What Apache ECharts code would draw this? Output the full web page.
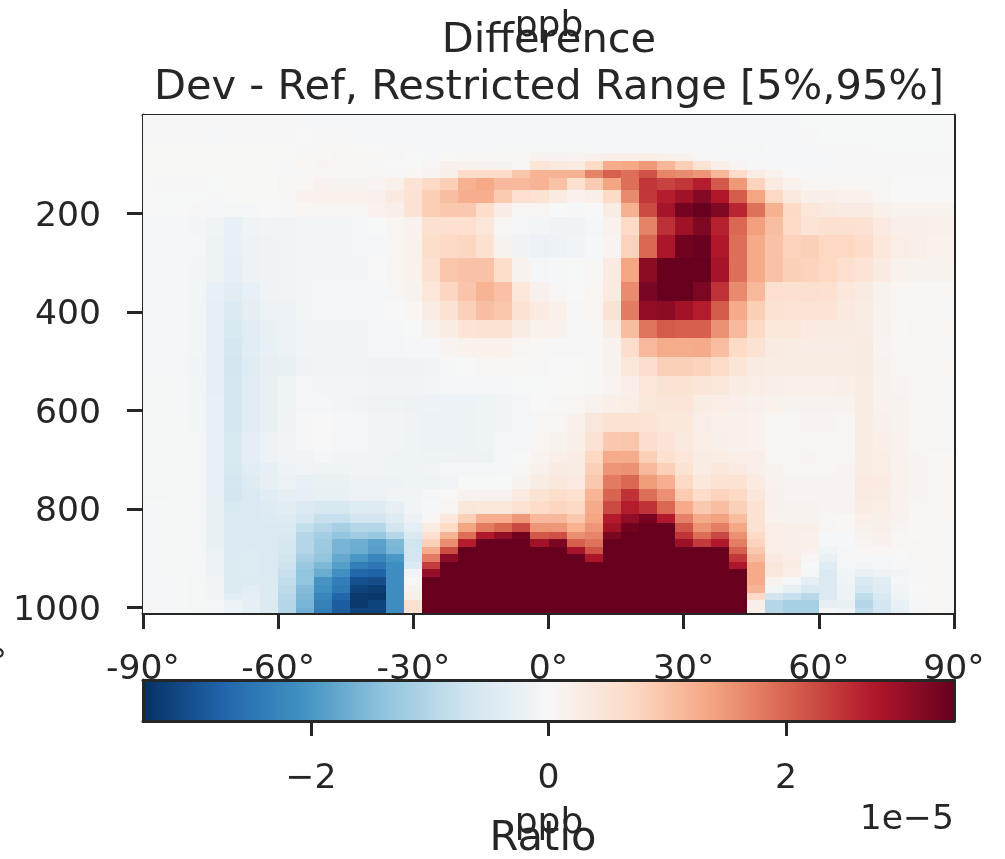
<!DOCTYPE html>
<html><head><meta charset="utf-8">
<style>html,body{margin:0;padding:0;background:#fff}#c{width:1005px;height:859px}</style>
<script src="https://cdn.jsdelivr.net/npm/echarts@6/dist/echarts.min.js"></script>
</head><body><div id="c"></div>
<script>
// Cell edges
const latEdges = [-90,-88,-84,-80,-76,-72,-68,-64,-60,-56,-52,-48,-44,-40,-36,-32,-28,-24,-20,-16,-12,-8,-4,0,4,8,12,16,20,24,28,32,36,40,44,48,52,56,60,64,68,72,76,80,84,88,90];
const pressureEdges = [0,24,57,77,93,111,128,152,179,207,244,290,339,378,416,453,491,530,569,605,644,682,707,731,759,784,810,828,847,861,877,891,908,922,938,954,971,985,1001,1011];
// Colour scale and ticks
const colorLimit = 3.415;
const rdbuColors = ['#053061','#2166ac','#4393c3','#92c5de','#d1e5f0','#f7f7f7','#fddbc7','#f4a582','#d6604d','#b2182b','#67001f'];
const latTicks = [-90,-60,-30,0,30,60,90];
const pressureTicks = [200,400,600,800,1000];
const colorbarTicks = [-2,0,2];
// Difference, in units of 1e-7 ppb, top row first, one value per latitude cell
const S = 342;
const diffRows = [
[2,2,2,2,2,2,2,2,2,-3,-3,-3,-3,-3,-3,-3,-3,-3,-3,-3,-3,-3,-3,-3,-3,-3,-3,-3,-3,-3,-3,-3,-3,-3,-3,-3,-3,-1,-1,-1,-1,-1,-1,-1,-1,-1],
[2,2,2,2,-3,2,2,2,2,0,-2,-2,-3,-3,-3,-3,-3,-3,-3,-3,-3,-4,-4,-4,-4,-4,-4,-4,-4,-4,-4,-4,-4,-4,-4,-3,-3,-2,-1,-1,-1,-1,-1,-1,-1,-1],
[1,1,1,1,1,1,1,1,1,2,3,3,1,0,-2,-3,-4,-4,-4,-4,-5,-5,-5,-5,-5,-4,-4,-4,-4,-4,-4,-4,-4,-5,-5,-4,-3,-3,-2,-2,-2,-1,-1,-1,-1,-1],
[1,1,1,1,1,1,1,1,1,5,6,5,5,4,2,-1,-3,1,3,3,3,5,12,12,10,16,22,22,25,18,12,5,-3,-4,-4,-4,-3,-3,-3,-2,-2,-2,-2,-2,-2,-2],
[1,1,1,1,1,1,1,1,2,6,10,8,7,2,0,1,7,17,15,14,12,7,45,35,30,68,127,132,148,115,85,50,22,10,-2,-3,-3,-3,-3,-2,-2,-2,-2,-2,-2,-2],
[1,1,1,1,1,1,1,1,2,5,8,7,7,4,2,6,10,20,65,65,65,95,118,118,122,170,205,190,218,168,162,152,115,65,27,15,0,-2,-2,-2,-2,-2,-2,-2,-2,-2],
[-1,-2,-2,-2,-1,1,1,1,4,7,14,13,13,10,18,48,70,85,122,132,112,112,118,100,55,88,137,190,245,232,245,268,212,148,78,32,15,8,4,4,4,5,1,0,0,0],
[0,-1,-1,-1,-2,0,1,1,3,14,15,15,15,16,35,52,85,105,125,125,90,58,52,30,14,22,68,163,243,268,290,315,275,208,137,72,35,20,20,15,15,7,0,0,0,0],
[0,-1,-1,-2,-3,-5,-3,0,2,6,8,8,8,14,22,52,85,92,92,62,26,8,8,0,-4,0,28,122,225,285,330,342,320,262,188,122,70,42,35,30,30,18,12,12,13,13],
[-6,-6,-7,-9,-17,-28,-17,-13,-10,-9,-9,-9,-8,-1,7,14,55,58,58,42,8,-8,-9,-15,-15,-6,15,68,170,250,290,320,265,198,143,105,68,48,55,55,52,32,22,22,18,18],
[-6,-6,-7,-8,-18,-28,-18,-15,-13,-9,-9,-9,-8,-3,8,15,62,70,75,55,13,-14,-22,-20,-13,-4,10,80,197,280,332,338,275,190,130,100,80,82,72,72,65,40,25,20,15,15],
[-6,-6,-8,-9,-18,-30,-18,-15,-12,-9,-9,-9,-9,0,7,15,55,95,100,100,62,12,-6,-3,-1,3,32,137,307,S,S,S,285,190,130,100,82,78,72,58,48,32,15,13,12,12],
[-6,-6,-8,-9,-28,-40,-28,-15,-12,-9,-8,-8,-8,-3,5,13,42,75,98,118,102,42,16,5,0,7,32,162,325,S,S,322,248,163,112,58,55,57,55,40,30,13,8,7,7,7],
[-6,-6,-8,-9,-30,-50,-35,-22,-19,-9,-8,-8,-7,-3,0,6,27,52,82,105,95,52,32,18,2,8,50,178,302,307,288,270,210,130,85,52,47,47,47,35,28,12,8,5,5,5],
[-6,-6,-8,-9,-30,-55,-38,-27,-20,-12,-11,-11,-11,-8,-4,-1,12,28,48,50,50,28,15,15,2,3,28,108,185,210,205,205,155,112,70,40,40,32,30,30,27,13,6,7,7,7],
[-6,-6,-7,-9,-30,-62,-40,-28,-22,-12,-11,-11,-10,-7,-6,-4,-3,10,15,15,15,7,3,2,2,2,13,63,112,128,128,130,105,68,52,30,28,26,27,27,30,9,4,4,4,4],
[-6,-6,-7,-10,-32,-65,-42,-30,-25,-14,-11,-11,-11,-14,-14,-14,-11,-4,-1,5,6,6,2,-1,1,3,13,38,60,82,82,78,65,45,30,28,28,28,28,28,30,12,8,7,7,6],
[-5,-5,-7,-9,-30,-62,-38,-27,-17,-8,-9,-9,-9,-11,-13,-11,-9,-7,-7,-6,-3,-1,-1,1,1,3,10,22,42,50,50,44,38,28,24,22,18,18,18,20,28,12,10,8,5,5],
[-5,-5,-6,-9,-28,-60,-38,-25,-17,-6,-6,-9,-10,-14,-17,-18,-20,-20,-20,-17,-10,-7,0,3,8,11,22,24,38,44,44,28,24,22,16,15,13,12,12,13,28,14,12,8,5,5],
[-5,-5,-5,-9,-28,-60,-37,-25,-15,-4,0,-4,-7,-10,-11,-14,-22,-20,-18,-17,-10,-7,4,8,17,38,50,52,47,40,37,23,18,17,14,7,7,9,9,8,28,16,12,8,5,5],
[-5,-5,-5,-7,-28,-55,-33,-22,-12,-4,0,-6,-8,-11,-11,-17,-21,-21,-18,-17,-8,-6,8,12,20,52,92,95,60,46,35,25,20,17,14,7,8,8,8,8,28,22,14,8,5,5],
[-5,-5,-5,-7,-28,-55,-33,-22,-13,-10,-8,-13,-13,-13,-17,-17,-18,-18,-18,-18,-8,-1,10,22,26,72,130,128,85,55,42,27,28,24,23,8,8,9,8,8,28,24,14,10,6,6],
[-5,-5,-5,-7,-28,-58,-40,-30,-20,-13,-17,-17,-11,-11,-17,-17,-11,-7,-7,-7,-4,7,17,30,28,82,152,155,112,82,52,28,40,32,22,12,7,7,8,9,28,25,15,10,7,6],
[-5,-5,-5,-7,-28,-60,-45,-32,-22,-28,-24,-24,-19,-19,-19,-17,-17,-11,-1,-1,-1,12,28,37,32,92,178,198,145,123,70,40,52,50,30,14,10,10,9,10,32,32,15,10,7,6],
[-5,-5,-5,-7,-28,-65,-50,-40,-30,-32,-28,-28,-22,-22,-13,-10,-7,2,12,12,12,30,50,62,55,117,200,248,190,157,90,66,78,70,38,16,10,10,9,10,30,28,14,10,8,6],
[-4,-4,-5,-7,-25,-55,-52,-45,-40,-50,-57,-57,-47,-45,-32,-12,-3,8,38,40,40,52,65,75,70,130,225,270,248,198,130,92,105,82,50,16,11,11,9,10,28,24,14,8,7,6],
[-4,-4,-5,-7,-28,-50,-50,-48,-45,-62,-78,-78,-65,-65,-45,-22,8,40,85,125,125,148,112,112,92,137,270,302,327,273,172,130,140,108,50,15,12,12,7,6,22,20,12,6,7,6],
[-4,-4,-5,-7,-26,-50,-50,-50,-52,-85,-100,-115,-100,-100,-65,-33,30,68,137,178,198,228,152,150,122,152,288,332,S,S,215,153,175,133,52,24,20,20,4,3,17,19,10,6,5,5],
[-4,-4,-5,-7,-26,-50,-50,-50,-55,-100,-118,-135,-122,-130,-100,-50,55,118,190,273,305,333,212,220,157,168,322,S,S,S,247,192,228,157,68,24,20,18,-3,-3,12,17,8,6,5,5],
[-4,-4,-5,-7,-26,-50,-50,-50,-60,-100,-125,-160,-168,-185,-155,-68,82,160,270,S,S,S,290,322,207,187,S,S,S,S,292,242,276,175,78,24,20,18,-4,-4,10,16,8,7,5,5],
[-4,-4,-5,-7,-24,-50,-48,-50,-62,-100,-128,-160,-170,-188,-158,-65,130,225,S,S,S,S,S,S,284,218,S,S,S,S,S,S,S,205,92,24,20,14,-17,-6,7,6,3,5,5,5],
[-4,-4,-5,-7,-22,-48,-46,-50,-65,-115,-135,-175,-200,-225,-200,-65,178,307,S,S,S,S,S,S,S,278,S,S,S,S,S,S,S,243,110,33,24,5,-25,-7,-6,-4,-1,3,5,5],
[-3,-4,-5,-7,-20,-48,-46,-50,-72,-130,-155,-190,-235,-248,-212,-50,240,S,S,S,S,S,S,S,S,S,S,S,S,S,S,S,S,278,130,38,28,-1,-42,-8,-10,-8,-3,2,5,5],
[-3,-4,-5,-7,-20,-48,-46,-50,-78,-137,-170,-210,-268,-275,-215,-15,300,S,S,S,S,S,S,S,S,S,S,S,S,S,S,S,S,S,130,36,25,-5,-50,-10,-25,-20,-12,2,5,5],
[-3,-3,-4,-5,-12,-48,-48,-48,-85,-137,-203,-238,-300,-303,-215,-2,S,S,S,S,S,S,S,S,S,S,S,S,S,S,S,S,S,S,130,12,-3,-35,-50,-15,-50,-40,-7,2,5,5],
[-3,-3,-4,-5,-12,-48,-38,-48,-90,-150,-208,-245,-318,-325,-215,12,S,S,S,S,S,S,S,S,S,S,S,S,S,S,S,S,S,S,118,-9,-30,-55,-52,-18,-62,-42,-10,0,5,5],
[-3,-3,-4,-5,-10,-40,-35,-48,-95,-155,-225,-272,-330,-333,-215,20,S,S,S,S,S,S,S,S,S,S,S,S,S,S,S,S,S,S,68,-65,-78,-95,-50,-18,-88,-55,-17,-2,4,5],
[-2,-3,-4,-5,-8,-20,-30,-48,-100,-158,-232,-285,-330,-318,-215,55,S,S,S,S,S,S,S,S,S,S,S,S,S,S,S,S,S,S,20,-100,-113,-113,-32,-25,-100,-63,-28,-6,3,5],
[-2,-3,-4,-5,-8,-20,-30,-48,-100,-165,-238,-285,-318,-318,-215,55,S,S,S,S,S,S,S,S,S,S,S,S,S,S,S,S,S,S,20,-100,-113,-113,-6,-12,-90,-63,-28,-6,3,5]
];

const cells = [];
diffRows.forEach((row, r) => row.forEach((v, c) => {
  cells.push([latEdges[c], latEdges[c + 1], pressureEdges[r], pressureEdges[r + 1], v / 100]);
}));

const ink = '#262626';
const FONT = 'DejaVu Sans';
const TICK = 34.6;
const chart = echarts.init(document.getElementById('c'), null, {renderer: 'canvas'});
const edgeAxis = {show: true, axisLine: {show: true, onZero: false, lineStyle: {color: ink, width: 3}}, axisTick: {show: false}, axisLabel: {show: false}, splitLine: {show: false}};
const label = (text, x, y, size, align) => ({type: 'text', x, y, z: 50, silent: true,
  style: {text, font: size + 'px "' + FONT + '"', fill: ink, textAlign: align || 'center', textVerticalAlign: 'bottom'}});

chart.setOption({
  animation: false,
  backgroundColor: '#fff',
  textStyle: {fontFamily: FONT, color: ink},
  title: {text: 'Difference\nDev - Ref, Restricted Range [5%,95%]', left: 544, top: 13, textAlign: 'center',
    textStyle: {fontFamily: FONT, fontSize: 41.6, fontWeight: 'normal', color: ink, lineHeight: 47}},
  grid: [
    {left: 143, top: 115, width: 811, height: 498, show: false},
    {left: 143, top: 680, width: 811, height: 41, show: true, borderWidth: 0,
      backgroundColor: new echarts.graphic.LinearGradient(0, 0, 1, 0, rdbuColors.map((color, i) => ({offset: i / (rdbuColors.length - 1), color})))}
  ],
  xAxis: [
    {type: 'value', gridIndex: 0, position: 'bottom', min: -90, max: 90, interval: 30, splitLine: {show: false},
      axisLine: {onZero: false, lineStyle: {color: ink, width: 3}},
      axisTick: {show: true, length: 16, lineStyle: {color: ink, width: 3}},
      axisLabel: {color: ink, fontSize: TICK, fontFamily: FONT, margin: 40, customValues: latTicks, formatter: v => v + '°', hideOverlap: false}},
    Object.assign({type: 'value', gridIndex: 0, position: 'top', min: -90, max: 90}, edgeAxis),
    {type: 'value', gridIndex: 1, position: 'bottom', min: -colorLimit, max: colorLimit, splitLine: {show: false},
      axisLine: {onZero: false, lineStyle: {color: ink, width: 3}},
      axisTick: {show: true, length: 15, customValues: colorbarTicks, lineStyle: {color: ink, width: 3}},
      axisLabel: {color: ink, fontSize: TICK, fontFamily: FONT, margin: 41, customValues: colorbarTicks, formatter: v => String(v).replace('-', '\u2212')}},
    Object.assign({type: 'value', gridIndex: 1, position: 'top', min: -colorLimit, max: colorLimit}, edgeAxis)
  ],
  yAxis: [
    {type: 'value', gridIndex: 0, position: 'left', inverse: true, min: 0, max: 1011, splitLine: {show: false},
      axisLine: {onZero: false, lineStyle: {color: ink, width: 3}},
      axisTick: {show: true, length: 16, customValues: pressureTicks, lineStyle: {color: ink, width: 3}},
      axisLabel: {color: ink, fontSize: TICK, fontFamily: FONT, margin: 42, verticalAlign: 'top', lineHeight: 6, customValues: pressureTicks, formatter: v => String(v)}},
    Object.assign({type: 'value', gridIndex: 0, position: 'right', inverse: true, min: 0, max: 1011}, edgeAxis),
    Object.assign({type: 'value', gridIndex: 1, position: 'left', min: 0, max: 1}, edgeAxis),
    Object.assign({type: 'value', gridIndex: 1, position: 'right', min: 0, max: 1}, edgeAxis)
  ],
  visualMap: {show: false, type: 'continuous', seriesIndex: 0, dimension: 4, min: -colorLimit, max: colorLimit, inRange: {color: rdbuColors}},
  series: [{
    type: 'custom', xAxisIndex: 0, yAxisIndex: 0, clip: true, silent: true,
    dimensions: ['lat0', 'lat1', 'p0', 'p1', 'diff'],
    encode: {x: [0, 1], y: [2, 3]},
    data: cells,
    renderItem: (params, api) => {
      const a = api.coord([api.value(0), api.value(2)]);
      const b = api.coord([api.value(1), api.value(3)]);
      const x = Math.round(a[0]), y = Math.round(a[1]);
      return {type: 'rect', shape: {x, y, width: Math.round(b[0]) - x, height: Math.round(b[1]) - y},
        style: {fill: api.visual('color')}};
    }
  }],
  graphic: [
    label('ppb', 549, 45, 36),
    label('ppb', 549, 842, 36),
    label('Ratio', 543, 860, 41.6),
    label('1e\u22125', 954, 838, TICK, 'right'),
    label('90°', 7, 682, TICK, 'right')
  ]
});
</script></body></html>
